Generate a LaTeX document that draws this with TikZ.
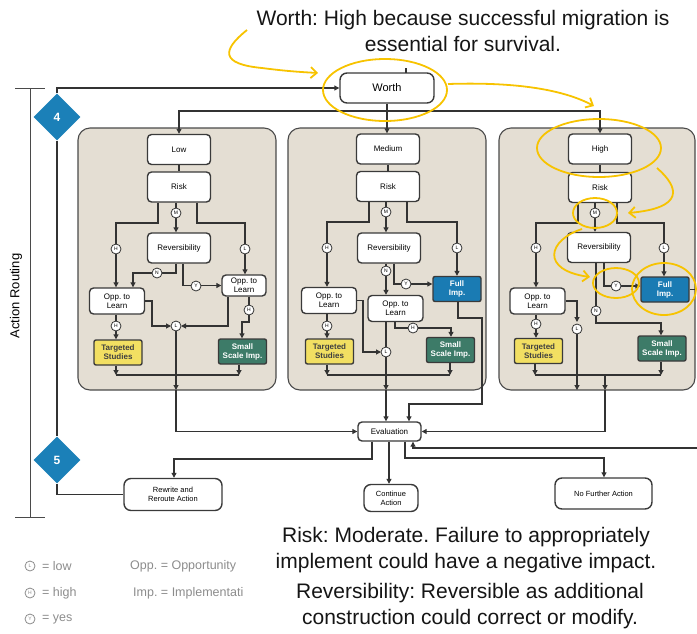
\documentclass[tikz,border=0pt]{standalone}
\usepackage{fontspec}
\setmainfont{Liberation Sans}
\usepackage{tikz}
\usetikzlibrary{arrows.meta}
\usetikzlibrary{shapes.geometric}
\frenchspacing

\definecolor{panelfill}{HTML}{E4DED3}
\definecolor{panelline}{HTML}{4A4A4A}
\definecolor{wirecol}{HTML}{333333}
\definecolor{boxline}{HTML}{3A3A3A}
\definecolor{routeblue}{HTML}{1B80B8}
\definecolor{fullblue}{HTML}{1A7BB3}
\definecolor{studyyellow}{HTML}{F2DF62}
\definecolor{scaleteal}{HTML}{3D7B68}
\definecolor{hlyellow}{HTML}{F7C300}
\definecolor{keygray}{HTML}{8C8C8C}
\definecolor{notetext}{HTML}{151515}

\begin{document}
\begin{tikzpicture}[x=1pt,y=-1pt,
    wire/.style={draw=wirecol,line width=1.1pt},
    arr/.style={wire,-{Triangle[length=5pt,width=5pt]}},
    panel/.style={draw=panelline,fill=panelfill,line width=1.1pt,rounded corners=12pt},
    box/.style={draw=boxline,fill=white,rounded corners=4pt,line width=1.4pt,
        align=center,inner sep=0pt,font=\fontsize{8}{9}\selectfont},
    sel/.style={box,minimum width=63pt,minimum height=30pt},
    opp/.style={box,minimum width=55pt,minimum height=26pt},
    res/.style={box,rounded corners=2pt,minimum width=48pt,minimum height=25pt,
        font=\fontsize{8}{9}\selectfont\bfseries},
    targ/.style={res,fill=studyyellow,text=black!75},
    small/.style={res,fill=scaleteal,text=white},
    full/.style={res,fill=fullblue,text=white},
    endbox/.style={box,rounded corners=7pt,font=\fontsize{7.5}{9}\selectfont},
    tok/.style={circle,draw=wirecol,fill=white,line width=0.8pt,minimum size=10pt,
        inner sep=0pt,font=\fontsize{5}{5}\selectfont},
    diam/.style={diamond,fill=routeblue,minimum width=47pt,minimum height=47pt,
        inner sep=0pt,text=white,font=\fontsize{12}{12}\selectfont\bfseries},
    hl/.style={draw=hlyellow,line width=1.8pt},
    hlarr/.style={hl,-{Straight Barb[length=6pt,width=11pt]}},
    note/.style={font=\fontsize{21}{26}\selectfont,align=center,text=notetext,inner sep=0pt},
    key/.style={font=\fontsize{12.5}{13}\selectfont,text=keygray,inner sep=0pt,anchor=west}
]
\useasboundingbox (0,0) rectangle (697,633);
\clip (0,0) rectangle (697,633);

% routing bracket and steps
\draw[draw=panelline,line width=1pt] (15,88) -- (45,88) (30,88) -- (30,517) (15,517) -- (45,517);
\node[rotate=90,font=\fontsize{13}{13}\selectfont] (routing) at (16,296) {Action Routing};
\node[diam] (d4) at (57,117) {4};
\node[diam] (d5) at (57,460) {5};

% the three panels
\draw[panel] (78,128) rectangle (276,390);
\draw[panel] (288,128) rectangle (486,390);
\draw[panel] (499,128) rectangle (695,390);

\node[box,minimum width=94pt,minimum height=30pt,rounded corners=7pt,
      font=\fontsize{11}{12}\selectfont] (worth) at (387,88) {Worth};
\draw[wire] (406,68) -- (406,73);

% low
\node[sel] (low) at (179,149.5) {Low};
\node[sel] (risk1) at (179,187) {Risk};
\node[sel] (rev1) at (179,248) {Reversibility};
\node[opp] (oppa1) at (117,301) {Opp. to\\Learn};
\node[opp,minimum width=44pt,minimum height=21pt] (oppb1) at (244,285.5) {Opp. to\\Learn};
\node[targ] (targ1) at (118,352.5) {Targeted\\Studies};
\node[small] (small1) at (242.5,351.5) {Small\\Scale Imp.};

% medium
\node[sel] (med) at (388,149) {Medium};
\node[sel] (risk2) at (388,186.5) {Risk};
\node[sel] (rev2) at (389,248) {Reversibility};
\node[opp] (oppa2) at (329,300.5) {Opp. to\\Learn};
\node[opp] (oppb2) at (395.5,308.5) {Opp. to\\Learn};
\node[full] (full2) at (457,289) {Full\\Imp.};
\node[targ] (targ2) at (329.5,351.5) {Targeted\\Studies};
\node[small] (small2) at (450.5,350) {Small\\Scale Imp.};

% high
\node[sel] (high) at (600,149) {High};
\node[sel] (risk3) at (600,187.5) {Risk};
\node[sel] (rev3) at (599,247.5) {Reversibility};
\node[opp] (oppa3) at (537.5,301) {Opp. to\\Learn};
\node[full] (full3) at (665,289.5) {Full\\Imp.};
\node[targ] (targ3) at (538.5,351) {Targeted\\Studies};
\node[small] (small3) at (662,348.5) {Small\\Scale Imp.};

% outcomes
\node[box,minimum width=63pt,minimum height=19pt] (eval) at (389.5,431.5) {Evaluation};
\node[endbox,minimum width=98pt,minimum height=32pt] (rewrite) at (173,494.5) {Rewrite and\\Reroute Action};
\node[endbox,minimum width=54pt,minimum height=27pt] (cont) at (391,498) {Continue\\Action};
\node[endbox,minimum width=97pt,minimum height=31pt] (nofurther) at (603.5,493.5) {No Further Action};

% routing into worth
\draw[wire] (d4) -- (d5);
\draw[arr] (d4.north) |- (worth.west);
\draw[wire] (d5.south) |- (rewrite.west);
\draw[arr] (worth) -- (worth.south |- med.north);
\draw[arr] (worth.south |- 0,111) -| (low.north);
\draw[arr] (worth.south |- 0,111) -| (high.north);

% low panel
\draw[wire] (low) -- (risk1);
\draw[arr] (risk1.south -| 158,0) |- (116,223) -- (oppa1.north -| 116,0);
\draw[arr] (risk1.south -| 176,0) -- (rev1.north -| 176,0);
\draw[arr] (risk1.south -| 197,0) |- (245,223) -- (oppb1.north -| 245,0);
\draw[arr] (rev1.south -| 176,0) |- (133,273) -- (oppa1.north -| 133,0);
\draw[arr] (rev1.south -| 183,0) |- (oppb1.west);
\draw[arr] (oppa1.south -| 116,0) -- (targ1.north -| 116,0);
\draw[arr] (oppa1.east) -| (152,326) -- (171,326);
\draw[arr] (oppb1.south -| 228,0) |- (181,326);
\draw[arr] (oppb1.south -| 249,0) -- (249,322) -| (small1.north -| 242,0);
\draw[arr] (targ1.south -| 116,0) -- (116,375);
\draw[arr] (small1.south -| 239,0) -- (239,375);
\draw[wire] (116,375) -- (239,375);
\draw[arr] (176,326) -- (176,390);
\draw[arr] (176,390) |- (eval.west);

% medium panel
\draw[wire] (med) -- (risk2);
\draw[arr] (risk2.south -| 369,0) |- (327,222) -- (oppa2.north -| 327,0);
\draw[arr] (risk2.south -| 386,0) -- (rev2.north -| 386,0);
\draw[arr] (risk2.south -| 407,0) |- (457,222) -- (full2.north);
\draw[arr] (rev2.south -| 386,0) -- (oppb2.north -| 386,0);
\draw[arr] (rev2.south -| 394,0) |- (full2.west |- 0,284);
\draw[arr] (oppa2.south -| 327,0) -- (targ2.north -| 327,0);
\draw[arr] (oppa2.east) -| (363,352) -- (381,352);
\draw[arr] (oppb2.south -| 386,0) -- (386,390);
\draw[arr] (386,390) -- (eval.north -| 386,0);
\draw[arr] (oppb2.south -| 395,0) |- (451,328) -- (small2.north -| 451,0);
\draw[arr] (targ2.south -| 327,0) -- (327,375);
\draw[arr] (small2.south -| 450,0) -- (450,375);
\draw[wire] (327,375) -- (450,375);
\draw[arr] (full2.south -| 458,0) |- (482,318) -- (482,404) -| (eval.north -| 409,0);

% high panel
\draw[wire] (high) -- (risk3);
\draw[arr] (risk3.south -| 578,0) |- (536,223) -- (oppa3.north -| 536,0);
\draw[arr] (risk3.south -| 595,0) -- (rev3.north -| 595,0);
\draw[arr] (risk3.south -| 617,0) |- (664,223) -- (full3.north -| 664,0);
\draw[arr] (rev3.south -| 604,0) |- (full3.west |- 0,286);
\draw[arr] (rev3.south -| 596,0) |- (661,323) -- (small3.north -| 661,0);
\draw[arr] (oppa3.south -| 536,0) -- (targ3.north -| 536,0);
\draw[arr] (oppa3.east) -| (577,322);
\draw[arr] (577,329) -- (577,390);
\draw[arr] (targ3.south -| 535,0) -- (535,375);
\draw[arr] (small3.south -| 661,0) -- (661,375);
\draw[wire] (535,375) -- (661,375);
\draw[arr] (605,375) -- (605,390);
\draw[arr] (605,390) |- (eval.east);
\draw[arr] (full3.east) -| (703,448) -| (eval.south -| 413,0);

% evaluation outcomes
\draw[arr] (eval.south -| 372,0) |- (174,459) -- (rewrite.north -| 174,0);
\draw[arr] (eval.south -| 389,0) -- (cont.north -| 389,0);
\draw[arr] (eval.south -| 405,0) |- (604,458) -- (nofurther.north -| 604,0);

% decision tokens
\foreach \x/\y/\t [count=\i] in {116/249/H,176/213/M,245/249/L,157/273/N,196/286/Y,
    116/326/H,176/326/L,249/310/H,
    327/248/H,386/212/M,457/248/L,386/271/N,406/284/Y,327/326/H,386/352/L,413/328/H,
    536/248/H,595/213/M,664/248/L,616/286/Y,596/311/N,536/324/H,577/329/L}
  \node[tok] (tok\i) at (\x,\y) {\t};

% key
\node[tok,draw=keygray,text=keygray] (keylow) at (30,566) {L};
\node[tok,draw=keygray,text=keygray] (keyhigh) at (30,593) {H};
\node[tok,draw=keygray,text=keygray] (keyyes) at (30,619) {Y};
\node[key] (keylowtxt) at (42,566) {= low};
\node[key] (keyhightxt) at (42,593) {= high};
\node[key] (keyyestxt) at (42,619) {= yes};
\node[key] (keyopp) at (130,566) {Opp. = Opportunity};
\node[key] (keyimp) at (133,593) {Imp. = Implementati};

% notes
\node[note] (worthnote) at (463,31) {Worth: High because successful migration is\\essential for survival.};
\node[note] (risknote) at (466,550) {Risk: Moderate. Failure to appropriately\\implement could have a negative impact.};
\node[note] (revnote) at (470,606.5) {Reversibility: Reversible as additional\\construction could correct or modify.};

% highlights
\draw[hl] (385,90) ellipse [x radius=62, y radius=31];
\draw[hl] (599,148) ellipse [x radius=62, y radius=29];
\draw[hl] (595,213) ellipse [x radius=22, y radius=15];
\draw[hl] (616,283) ellipse [x radius=23, y radius=15];
\draw[hl] (664,289) ellipse [x radius=32, y radius=26];
\draw[hlarr] (247,30) .. controls (222,50) and (220,64) .. (262,68) .. controls (285,71) and (300,72) .. (318,73);
\draw[hlarr] (448,84) .. controls (510,82) and (560,88) .. (594,106);
\draw[hlarr] (657,168) .. controls (680,188) and (684,208) .. (628,213);
\draw[hlarr] (582,229) .. controls (548,240) and (540,270) .. (590,277);
\end{tikzpicture}
\end{document}
